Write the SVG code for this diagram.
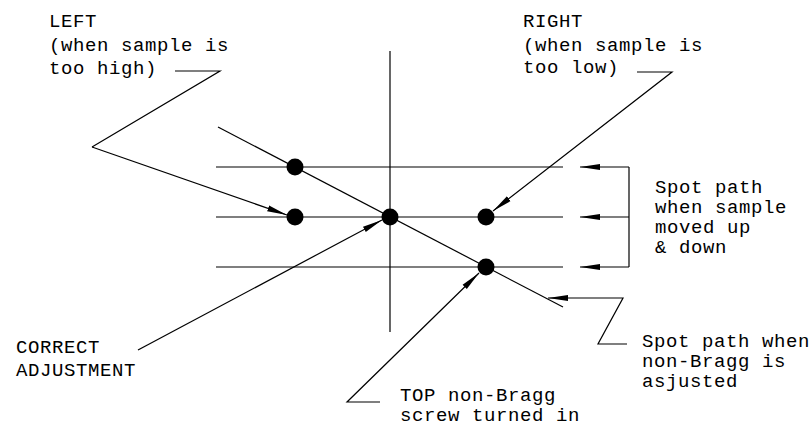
<svg xmlns="http://www.w3.org/2000/svg" width="810" height="426" viewBox="0 0 810 426">
<defs>
<style>
.ln{stroke:#000;stroke-width:1.2;fill:none}
.t{font-family:"Liberation Mono","DejaVu Sans Mono",monospace;font-size:19px;letter-spacing:0.6px;fill:#000}
.dot{fill:#000}
</style>
<marker id="ah" markerWidth="20" markerHeight="8" refX="20" refY="4" orient="auto" markerUnits="userSpaceOnUse">
<path d="M0,1 L20,4 L0,7 Z" fill="#000"/>
</marker>
</defs>
<rect width="810" height="426" fill="#fff"/>
<g id="axes">
<line class="ln" x1="390" y1="51" x2="390" y2="332"/>
<line class="ln" x1="216" y1="167" x2="563" y2="167"/>
<line class="ln" x1="216" y1="217" x2="563" y2="217"/>
<line class="ln" x1="216" y1="267" x2="563" y2="267"/>
<line class="ln" x1="218" y1="127" x2="563" y2="307"/>
</g>
<g id="dots">
<circle class="dot" cx="295" cy="167" r="8.5"/>
<circle class="dot" cx="295" cy="217" r="8.5"/>
<circle class="dot" cx="390" cy="217" r="8.5"/>
<circle class="dot" cx="486" cy="217" r="8.5"/>
<circle class="dot" cx="486" cy="267" r="8.5"/>
</g>
<g id="connectors">
<polyline class="ln" points="175,71 220,71 92,147"/>
<line class="ln" x1="92" y1="147" x2="287" y2="215" marker-end="url(#ah)"/>
<polyline class="ln" points="637,72 672,72 493,211" marker-end="url(#ah)"/>
<line class="ln" x1="138" y1="350" x2="382" y2="220" marker-end="url(#ah)"/>
<polyline class="ln" points="380,402 347,402 479,273" marker-end="url(#ah)"/>
<polyline class="ln" points="627,344 598,344 623,298 548,298" marker-end="url(#ah)"/>
<line class="ln" x1="629" y1="167" x2="629" y2="267"/>
<line class="ln" x1="629" y1="167" x2="580" y2="167" marker-end="url(#ah)"/>
<line class="ln" x1="629" y1="217" x2="580" y2="217" marker-end="url(#ah)"/>
<line class="ln" x1="629" y1="267" x2="580" y2="267" marker-end="url(#ah)"/>
</g>
<g id="label-left">
<text class="t" x="49" y="27">LEFT</text>
<text class="t" x="49" y="50.5">(when sample is</text>
<text class="t" x="49" y="74">too high)</text>
</g>
<g id="label-right">
<text class="t" x="523" y="27">RIGHT</text>
<text class="t" x="523" y="50.5">(when sample is</text>
<text class="t" x="523" y="73">too low)</text>
</g>
<g id="label-spot-updown">
<text class="t" x="655" y="193">Spot path</text>
<text class="t" x="655" y="213">when sample</text>
<text class="t" x="655" y="233">moved up</text>
<text class="t" x="655" y="253">&amp; down</text>
</g>
<g id="label-correct">
<text class="t" x="16" y="352.5">CORRECT</text>
<text class="t" x="16" y="376">ADJUSTMENT</text>
</g>
<g id="label-top">
<text class="t" x="400" y="401">TOP non-Bragg</text>
<text class="t" x="400" y="421">screw turned in</text>
</g>
<g id="label-spot-nonbragg">
<text class="t" x="642" y="347">Spot path when</text>
<text class="t" x="642" y="367">non-Bragg is</text>
<text class="t" x="642" y="387">asjusted</text>
</g>
</svg>
